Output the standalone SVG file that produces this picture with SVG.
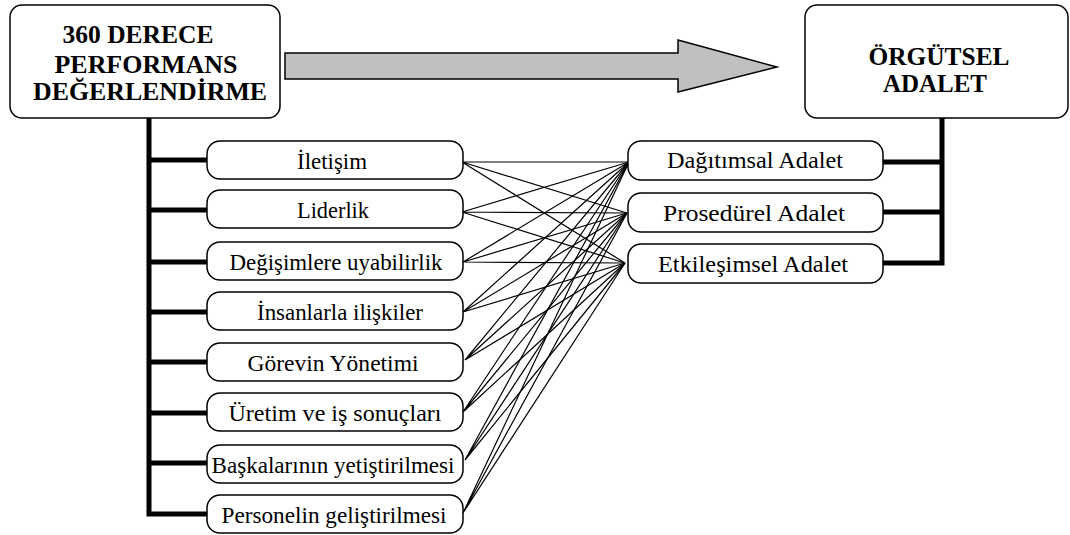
<svg xmlns="http://www.w3.org/2000/svg" width="1070" height="535" viewBox="0 0 1070 535">
  <style>
    .box { fill: #ffffff; stroke: #000000; stroke-width: 1.5; }
    .title { font-family: 'Liberation Serif', Tinos, 'DejaVu Serif', serif; font-weight: bold; font-size: 25px; text-anchor: middle; fill: #000; }
    .label { font-family: 'Liberation Serif', Tinos, 'DejaVu Serif', serif; font-size: 23px; text-anchor: middle; fill: #000; }
    .bar { fill: none; stroke: #000; stroke-width: 5; stroke-linejoin: miter; }
    .link { stroke: #000; stroke-width: 1.2; fill: none; }
    .big-arrow { fill: #c0c0c0; stroke: #000; stroke-width: 1.5; stroke-linejoin: miter; }
  </style>
  <rect width="1070" height="535" fill="#ffffff"/>

  <!-- trunk lines and branches -->
  <g id="connectors">
    <path class="bar" d="M149,118 V514 H207 M149,160 H207 M149,210 H207 M149,262 H207 M149,312 H207 M149,362 H207 M149,413 H207 M149,463 H207"/>
    <path class="bar" d="M942,118 V263 H883 M942,162 H883 M942,212 H883"/>
    <polygon class="big-arrow" points="285,53 678,53 678,40 777,67 678,92 678,79 285,79"/>
    <g class="links">
      <!-- each competency to each justice dimension -->
      <path class="link" d="M462,162 L629,162 M462,162 L627,213 M462,162 L625,263"/>
      <path class="link" d="M462,212 L629,162 M462,212 L627,213 M462,212 L625,263"/>
      <path class="link" d="M463,262 L629,162 M463,262 L627,213 M463,262 L625,263"/>
      <path class="link" d="M463,312 L629,162 M463,312 L627,213 M463,312 L625,263"/>
      <path class="link" d="M465,360 L629,162 M465,360 L627,213 M465,360 L625,263"/>
      <path class="link" d="M463,412 L629,162 M463,412 L627,213 M463,412 L625,263"/>
      <path class="link" d="M465,460 L629,162 M465,460 L627,213 M465,460 L625,263"/>
      <path class="link" d="M463,513 L629,162 M463,513 L627,213 M463,513 L625,263"/>
    </g>
  </g>

  <g id="node-360">
    <rect class="box" x="10" y="5" width="270" height="113" rx="12"/>
    <text class="title" x="138" y="43" textLength="151" lengthAdjust="spacingAndGlyphs">360 DERECE</text>
    <text class="title" x="146" y="73" textLength="183" lengthAdjust="spacingAndGlyphs">PERFORMANS</text>
    <text class="title" x="150" y="100" textLength="234" lengthAdjust="spacingAndGlyphs">DEĞERLENDİRME</text>
  </g>

  <g id="node-orgutsel">
    <rect class="box" x="805" y="5" width="263" height="113" rx="12"/>
    <text class="title" x="939" y="65" textLength="141" lengthAdjust="spacingAndGlyphs">ÖRGÜTSEL</text>
    <text class="title" x="935" y="92" textLength="104" lengthAdjust="spacingAndGlyphs">ADALET</text>
  </g>

  <g id="node-iletisim">
    <rect class="box" x="207" y="141" width="256" height="38" rx="13"/>
    <text class="label" x="332" y="169" textLength="70" lengthAdjust="spacingAndGlyphs">İletişim</text>
  </g>
  <g id="node-liderlik">
    <rect class="box" x="207" y="190" width="256" height="38" rx="13"/>
    <text class="label" x="333" y="218" textLength="72" lengthAdjust="spacingAndGlyphs">Liderlik</text>
  </g>
  <g id="node-degisim">
    <rect class="box" x="207" y="242" width="256" height="38" rx="13"/>
    <text class="label" x="336" y="270" textLength="213" lengthAdjust="spacingAndGlyphs">Değişimlere uyabilirlik</text>
  </g>
  <g id="node-insan">
    <rect class="box" x="207" y="292" width="256" height="38" rx="13"/>
    <text class="label" x="340" y="320" textLength="166" lengthAdjust="spacingAndGlyphs">İnsanlarla ilişkiler</text>
  </g>
  <g id="node-gorev">
    <rect class="box" x="207" y="343" width="256" height="38" rx="13"/>
    <text class="label" x="333" y="371" textLength="171" lengthAdjust="spacingAndGlyphs">Görevin Yönetimi</text>
  </g>
  <g id="node-uretim">
    <rect class="box" x="207" y="393" width="256" height="38" rx="13"/>
    <text class="label" x="335" y="421" textLength="213" lengthAdjust="spacingAndGlyphs">Üretim ve iş sonuçları</text>
  </g>
  <g id="node-baskalari">
    <rect class="box" x="207" y="445" width="256" height="38" rx="13"/>
    <text class="label" x="333" y="473" textLength="243" lengthAdjust="spacingAndGlyphs">Başkalarının yetiştirilmesi</text>
  </g>
  <g id="node-personel">
    <rect class="box" x="207" y="495" width="256" height="38" rx="13"/>
    <text class="label" x="334" y="523" textLength="225" lengthAdjust="spacingAndGlyphs">Personelin geliştirilmesi</text>
  </g>

  <g id="node-dagitimsal">
    <rect class="box" x="628" y="141" width="255" height="39" rx="13"/>
    <text class="label" x="755" y="168" textLength="176" lengthAdjust="spacingAndGlyphs">Dağıtımsal Adalet</text>
  </g>
  <g id="node-prosedurel">
    <rect class="box" x="628" y="193" width="255" height="39" rx="13"/>
    <text class="label" x="754" y="221" textLength="182" lengthAdjust="spacingAndGlyphs">Prosedürel Adalet</text>
  </g>
  <g id="node-etkilesim">
    <rect class="box" x="628" y="244" width="255" height="39" rx="13"/>
    <text class="label" x="753" y="272" textLength="190" lengthAdjust="spacingAndGlyphs">Etkileşimsel Adalet</text>
  </g>
</svg>
